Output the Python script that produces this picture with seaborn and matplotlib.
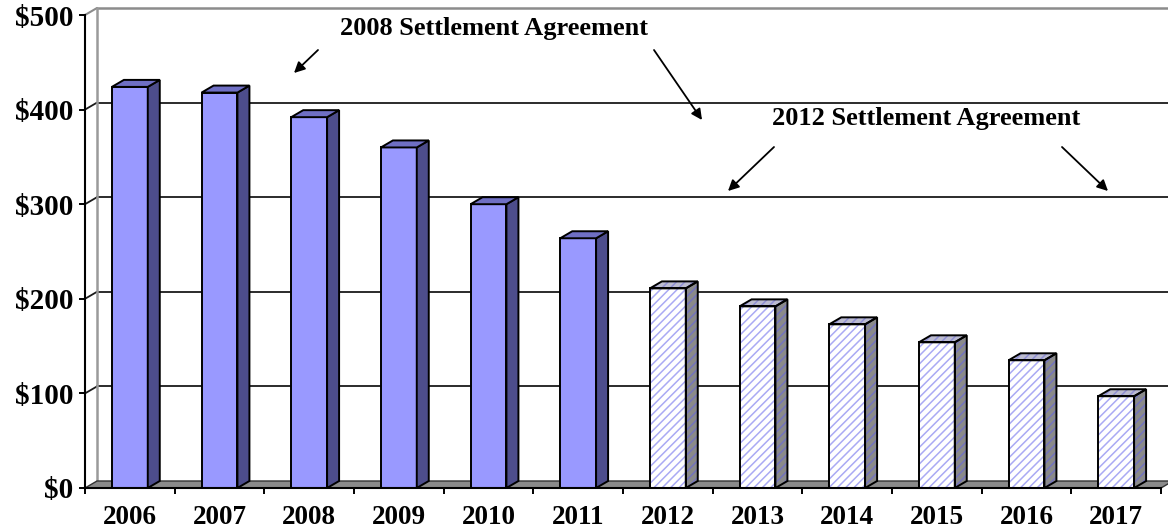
import matplotlib
matplotlib.use('Agg')
import matplotlib.pyplot as plt
import seaborn as sns
import pandas as pd
from matplotlib.patches import Polygon, Rectangle

# ---- data ----
years = ['2006', '2007', '2008', '2009', '2010', '2011',
         '2012', '2013', '2014', '2015', '2016', '2017']
values = [424, 418, 392, 360, 300, 264, 211, 192, 173, 154, 135, 97]
agreement = ['2008'] * 6 + ['2012'] * 6
y_ticks = [0, 100, 200, 300, 400, 500]
y_tick_labels = ['$0', '$100', '$200', '$300', '$400', '$500']
label_2008 = '2008 Settlement Agreement'
label_2012 = '2012 Settlement Agreement'

# ---- style ----
sns.set_theme(style='white')
plt.rcParams['font.family'] = ['Liberation Serif', 'DejaVu Serif']
plt.rcParams['font.weight'] = 'bold'
plt.rcParams['text.color'] = 'black'
plt.rcParams['xtick.color'] = 'black'
plt.rcParams['ytick.color'] = 'black'
plt.rcParams['hatch.linewidth'] = 1.1

W, H = 1168, 531
fig = plt.figure(figsize=(W / 100, H / 100), dpi=100)
ax = fig.add_axes([85 / W, 1 - 488 / H, (1161 - 85) / W, (488 - 15) / H])

df = pd.DataFrame({'year': years, 'value': values, 'agreement': agreement})
sns.barplot(data=df, x='year', y='value', hue='agreement',
            palette={'2008': '#9999FF', '2012': 'white'}, saturation=1,
            dodge=False, width=0.40, edgecolor='black', linewidth=1.4,
            legend=False, ax=ax, zorder=4)
ax.set_xlim(-0.5, 11.5)
ax.set_ylim(0, 500)

DX = 12 / ((1161 - 85) / 12)     # 12 px in category units
DY = 7 / ((488 - 15) / 500)      # 7 px in value units

# back wall gridlines and edges
for v in y_ticks[1:-1]:
    ax.plot([-0.5 + DX, 12.0], [v + DY, v + DY], color='#1a1a1a', lw=1.3,
            zorder=1, clip_on=False)
    ax.plot([-0.5, -0.5 + DX], [v, v + DY], color='#1a1a1a', lw=1.3,
            zorder=1, clip_on=False)
ax.plot([-0.5 + DX, 12.0], [500 + DY, 500 + DY], color='#8c8c8c', lw=1.8,
        zorder=1, clip_on=False)
ax.plot([-0.5, -0.5 + DX], [500, 500 + DY], color='#8c8c8c', lw=1.5,
        zorder=1, clip_on=False)
ax.plot([-0.5 + DX, -0.5 + DX], [DY, 500 + DY], color='#9a9a9a', lw=1.8,
        zorder=1, clip_on=False)

# floor
floor = Polygon([(-0.5, 0), (-0.5 + DX, DY), (11.5 + DX, DY), (11.5, 0)],
                closed=True, facecolor='#8a8a8a', edgecolor='#333333', lw=1.0,
                zorder=2, clip_on=False)
ax.add_patch(floor)

# 3D faces for bars
for p in list(ax.patches):
    if not isinstance(p, Rectangle) or p is floor:
        continue
    x0, w, h = p.get_x(), p.get_width(), p.get_height()
    idx = int(round(x0 + w / 2))
    hatched = agreement[idx] == '2012'
    side = [(x0 + w, 0), (x0 + w + DX, DY), (x0 + w + DX, h + DY), (x0 + w, h)]
    top = [(x0, h), (x0 + DX, h + DY), (x0 + w + DX, h + DY), (x0 + w, h)]
    if hatched:
        p.set_facecolor('white')
        p.set_edgecolor('#aaaaf4')
        p.set_hatch('////')
        p.set_linewidth(0)
        ax.add_patch(Rectangle((x0, 0), w, h, fill=False, edgecolor='black',
                               lw=1.4, zorder=5))
        for pts, fc, hc in [(side, '#8a8a8a', '#7474bc'),
                            (top, '#bcbcd0', '#9090d4')]:
            ax.add_patch(Polygon(pts, closed=True, facecolor=fc, edgecolor=hc,
                                 hatch='////', lw=0, zorder=4))
            ax.add_patch(Polygon(pts, closed=True, fill=False,
                                 edgecolor='black', lw=1.4, zorder=5))
    else:
        ax.add_patch(Polygon(side, closed=True, facecolor='#4d4d8c',
                             edgecolor='black', lw=1.4, zorder=4))
        ax.add_patch(Polygon(top, closed=True, facecolor='#6f6fc4',
                             edgecolor='black', lw=1.4, zorder=4))

# axes, ticks
for s in ['top', 'right']:
    ax.spines[s].set_visible(False)
for s in ['left', 'bottom']:
    ax.spines[s].set_color('black')
    ax.spines[s].set_linewidth(1.5)
    ax.spines[s].set_zorder(6)
ax.set_yticks(y_ticks)
ax.set_yticklabels(y_tick_labels, fontsize=21, fontweight='bold')
ax.tick_params(axis='y', direction='out', length=4.3, width=1.4,
               color='black', pad=4, left=True)
ax.set_xticks(range(len(years)))
ax.set_xticklabels(years, fontsize=19.5, fontweight='bold')
ax.set_xticks([i - 0.5 for i in range(len(years) + 1)], minor=True)
ax.tick_params(axis='x', which='major', length=0, pad=12.5)
ax.tick_params(axis='x', which='minor', direction='out', length=4.3,
               width=1.4, color='black', bottom=True)
ax.set_xlabel('')
ax.set_ylabel('')
ax.grid(False)

# annotations (figure pixel coordinates, y measured from bottom)
def fp(x, y):
    return (x, H - y)

fig.text(494 / W, 1 - 28.5 / H, label_2008, ha='center', va='center',
         fontsize=19, fontweight='bold')
fig.text(926 / W, 1 - 119 / H, label_2012, ha='center', va='center',
         fontsize=19, fontweight='bold')
arrow_kw = dict(arrowstyle='-|>', color='black', lw=1.3, mutation_scale=16,
                shrinkA=0, shrinkB=0)
for tail, head in [((318, 50), (294, 73)), ((654, 50), (702, 120)),
                   ((774, 147), (728, 191)), ((1062, 147), (1108, 191))]:
    ax.annotate('', xy=fp(*head), xycoords='figure pixels',
                xytext=fp(*tail), textcoords='figure pixels',
                arrowprops=arrow_kw, annotation_clip=False)

fig.savefig('out.png', dpi=100)
